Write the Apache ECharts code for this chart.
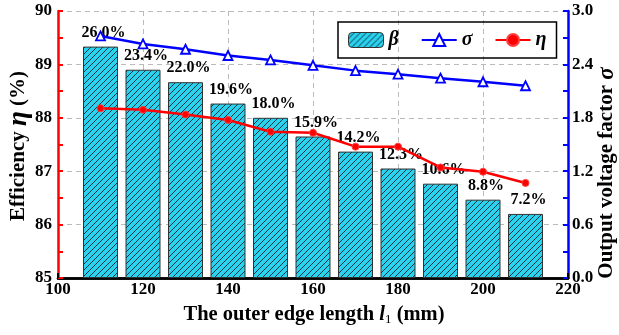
<!DOCTYPE html>
<html>
<head>
<meta charset="utf-8">
<script src="https://cdn.jsdelivr.net/npm/echarts@6/dist/echarts.min.js"></script>
<style>
  html, body { margin: 0; padding: 0; background: #fff; }
  #chart { width: 619px; height: 335px; }
</style>
</head>
<body>
<div id="chart"></div>
<script>
// Outer edge length l1 (mm)
const lengths = [110, 120, 130, 140, 150, 160, 170, 180, 190, 200, 210];
// β (%) shown as hatched bars
const beta = [26.0, 23.4, 22.0, 19.6, 18.0, 15.9, 14.2, 12.3, 10.6, 8.8, 7.2];
// Output voltage factor σ
const sigma = [2.72, 2.63, 2.57, 2.50, 2.45, 2.39, 2.33, 2.29, 2.245, 2.205, 2.16];
// Efficiency η (%)
const eta = [88.18, 88.15, 88.06, 87.96, 87.74, 87.72, 87.46, 87.46, 87.07, 86.99, 86.78];

const FONT = '"Liberation Serif", "Times New Roman", serif';

// Cyan fill with diagonal hatch lines
function hatchPattern() {
  const s = 6;
  const c = document.createElement('canvas');
  c.width = s; c.height = s;
  const g = c.getContext('2d');
  g.fillStyle = '#2ad2ee';
  g.fillRect(0, 0, s, s);
  g.strokeStyle = '#0d3545';
  g.lineWidth = 1;
  g.beginPath();
  g.moveTo(-1, s + 1); g.lineTo(s + 1, -1);
  g.moveTo(-1, 1); g.lineTo(1, -1);
  g.moveTo(s - 1, s + 1); g.lineTo(s + 1, s - 1);
  g.stroke();
  return c;
}
const hatch = { image: hatchPattern(), repeat: 'repeat' };

const chart = echarts.init(document.getElementById('chart'), null, { renderer: 'canvas' });

const tickLabel = { color: '#000', fontFamily: FONT, fontWeight: 'bold', fontSize: 17 };

chart.setOption({
  animation: false,
  backgroundColor: '#fff',
  grid: { left: 58, right: 51, top: 11, bottom: 57 },
  legend: {
    left: 338, top: 22, width: 219, height: 33,
    padding: [8, 10, 8, 10],
    itemWidth: 35, itemHeight: 15, itemGap: 22,
    borderColor: '#000', borderWidth: 1.5,
    textStyle: { fontFamily: FONT, fontStyle: 'italic', fontWeight: 'bold', fontSize: 20, color: '#000' },
    data: [
      { name: 'β', itemStyle: { color: hatch, borderColor: '#333', borderWidth: 1 } },
      { name: 'σ' },
      { name: 'η' }
    ]
  },
  xAxis: [
    {
      type: 'value', min: 100, max: 220, interval: 20,
      axisLine: { lineStyle: { color: '#000', width: 2.5 } },
      axisTick: { inside: true, length: 5, lineStyle: { color: '#000', width: 2 } },
      minorTick: { show: true, splitNumber: 2, length: 5, lineStyle: { color: '#000', width: 2 } },
      axisLabel: Object.assign({ margin: 3 }, tickLabel),
      splitLine: { show: true, lineStyle: { color: '#bbb', type: [5, 4], width: 1 } }
    },
    {
      type: 'value', min: 100, max: 220, position: 'top',
      axisLine: { lineStyle: { color: '#000', width: 2.5 } },
      axisTick: { show: false }, axisLabel: { show: false }, splitLine: { show: false }
    }
  ],
  yAxis: [
    {
      type: 'value', min: 85, max: 90, interval: 1, position: 'left',
      axisLine: { show: true, lineStyle: { color: '#ff0000', width: 2.5 } },
      axisTick: { show: true, inside: true, length: 5, lineStyle: { color: '#ff0000', width: 2 } },
      minorTick: { show: true, splitNumber: 2, length: 5, lineStyle: { color: '#ff0000', width: 2 } },
      axisLabel: Object.assign({ margin: 6 }, tickLabel),
      splitLine: { show: true, lineStyle: { color: '#bbb', type: [5, 4], width: 1 } }
    },
    {
      type: 'value', min: 0, max: 3, interval: 0.6, position: 'right',
      axisLine: { show: true, lineStyle: { color: '#0000ff', width: 2.5 } },
      axisTick: { show: true, inside: true, length: 5, lineStyle: { color: '#0000ff', width: 2 } },
      minorTick: { show: true, splitNumber: 2, length: 5, lineStyle: { color: '#0000ff', width: 2 } },
      axisLabel: Object.assign({ margin: 4, formatter: v => v.toFixed(1) }, tickLabel),
      splitLine: { show: false }
    },
    {
      // scale for β bars (not drawn)
      type: 'value', min: 0, max: 30, show: false
    }
  ],
  series: [
    {
      name: 'β', type: 'bar', xAxisIndex: 0, yAxisIndex: 2,
      barWidth: 35,
      data: lengths.map((x, i) => [x, beta[i]]),
      itemStyle: { color: hatch, borderColor: '#333', borderWidth: 1 },
      label: {
        show: true, position: 'top', distance: 6, offset: [3, 0],
        formatter: p => p.value[1].toFixed(1) + '%',
        fontFamily: FONT, fontWeight: 'bold', fontSize: 16, color: '#000'
      },
      z: 2
    },
    {
      name: 'σ', type: 'line', xAxisIndex: 0, yAxisIndex: 1,
      data: lengths.map((x, i) => [x, sigma[i]]),
      symbol: 'triangle', symbolSize: 9,
      lineStyle: { color: '#0000ff', width: 2.5 },
      itemStyle: { color: '#fff', borderColor: '#0000ff', borderWidth: 1.8 },
      z: 4
    },
    {
      name: 'η', type: 'line', xAxisIndex: 0, yAxisIndex: 0,
      data: lengths.map((x, i) => [x, eta[i]]),
      symbol: 'circle', symbolSize: 7,
      lineStyle: { color: '#ff0000', width: 2.5 },
      itemStyle: { color: '#ff0000', borderColor: '#ff4040', borderWidth: 1 },
      z: 5
    }
  ],
  graphic: [
    {
      type: 'text', x: 19, y: 146, rotation: Math.PI / 2,
      style: {
        text: '{b|Efficiency }{i|η}{b| (%)}',
        align: 'center', verticalAlign: 'middle',
        rich: {
          b: { fontFamily: FONT, fontWeight: 'bold', fontSize: 21, fill: '#000' },
          i: { fontFamily: FONT, fontWeight: 'bold', fontStyle: 'italic', fontSize: 27, fill: '#000' }
        }
      }
    },
    {
      type: 'text', x: 607, y: 173, rotation: Math.PI / 2,
      style: {
        text: '{b|Output voltage factor }{i|σ}',
        align: 'center', verticalAlign: 'middle',
        rich: {
          b: { fontFamily: FONT, fontWeight: 'bold', fontSize: 21, fill: '#000' },
          i: { fontFamily: FONT, fontWeight: 'bold', fontStyle: 'italic', fontSize: 23, fill: '#000' }
        }
      }
    },
    {
      type: 'text', x: 314, y: 315,
      style: {
        text: '{b|The outer edge length }{i|l}{s|1}{b| (mm)}',
        align: 'center', verticalAlign: 'middle',
        rich: {
          b: { fontFamily: FONT, fontWeight: 'bold', fontSize: 20.5, fill: '#000' },
          i: { fontFamily: FONT, fontWeight: 'bold', fontStyle: 'italic', fontSize: 20.5, fill: '#000' },
          s: { fontFamily: FONT, fontSize: 13, fill: '#000', padding: [9, 0, 0, 0] }
        }
      }
    }
  ]
});
</script>
</body>
</html>
